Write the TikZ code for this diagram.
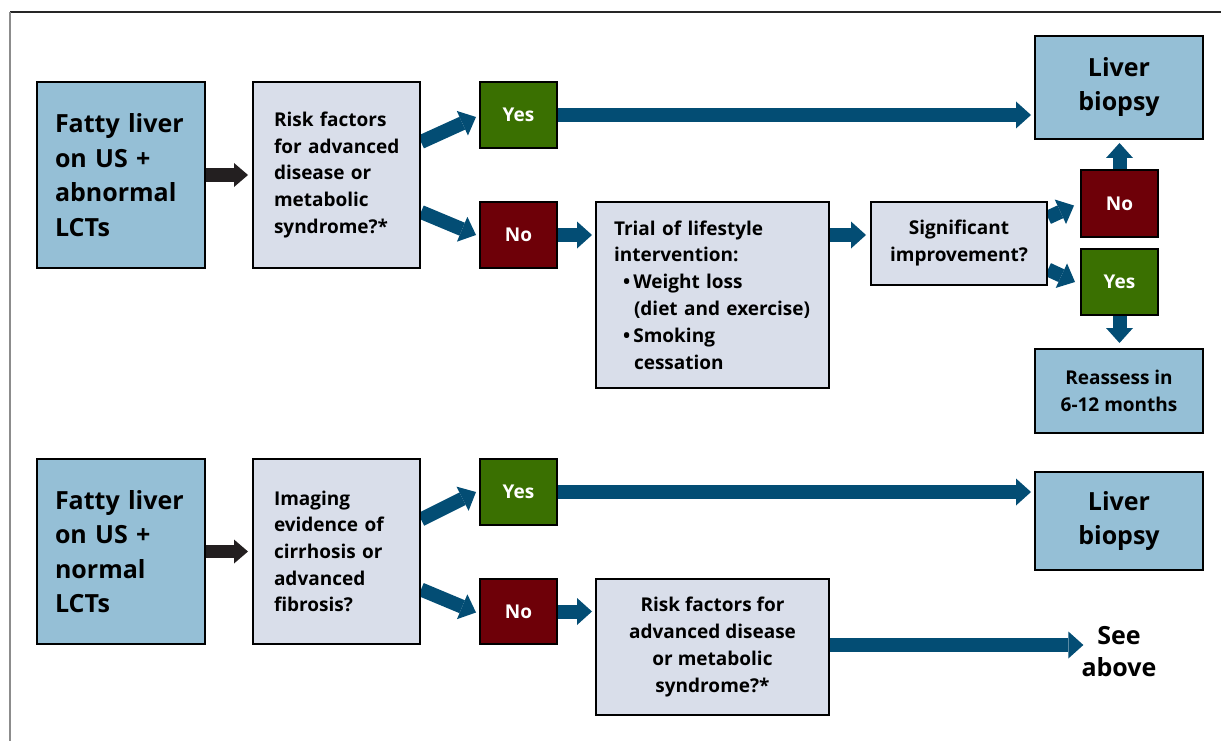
\documentclass[tikz,border=0pt]{standalone}
\usepackage{fontspec}
\setmainfont{Open Sans}
\usetikzlibrary{arrows.meta,backgrounds}
\definecolor{lblue}{HTML}{95BFD6}
\definecolor{lgray}{HTML}{D9DEEA}
\definecolor{ygreen}{HTML}{3A7001}
\definecolor{nred}{HTML}{6E0008}
\definecolor{ablue}{HTML}{034D74}
\definecolor{ablack}{HTML}{231F20}
\begin{document}
\begin{tikzpicture}[x=1pt,y=-1pt,
  box/.style={draw=black, line width=2pt, inner sep=0pt},
  startbox/.style={box, fill=lblue, minimum width=168pt, minimum height=186pt,
    inner xsep=18pt, text width=132pt, align=left, font=\fontsize{25}{34.5}\selectfont\bfseries},
  qbox/.style={box, fill=lgray, minimum width=167pt, minimum height=186pt,
    inner xsep=21pt, text width=125pt, align=left, font=\fontsize{19}{26.7}\selectfont\bfseries},
  endbox/.style={box, fill=lblue, minimum width=168pt, align=center, font=\fontsize{25}{34}\selectfont\bfseries},
  yesbox/.style={box, fill=ygreen, text=white, minimum width=77pt, minimum height=66pt, font=\fontsize{19}{24}\selectfont\bfseries},
  nobox/.style={box, fill=nred, text=white, minimum width=77pt, minimum height=66pt, font=\fontsize{19}{24}\selectfont\bfseries},
  graybox/.style={box, fill=lgray, align=center, font=\fontsize{19}{27}\selectfont\bfseries},
  barrow/.style={draw=ablue, line width=14pt, -{Triangle[length=15pt,width=27pt,line width=0pt]}},
  karrow/.style={draw=ablack, line width=13pt, -{Triangle[length=14pt,width=24pt,line width=0pt]}}
]
\useasboundingbox (0,0) rectangle (1221,741);
\draw[line width=1.2pt, draw=black!85] (10,12) -- (1221,12);
\draw[line width=2pt, draw=black!45] (10,12) -- (10,741);

% top flow
\node[startbox] (A1) at (121,175) {Fatty liver\\on US +\\abnormal\\LCTs};
\node[qbox] (B1) at (336.5,175) {Risk factors\\\mbox{for advanced}\\disease or\\metabolic\\syndrome?*};
\node[yesbox] (Yes1) at (518.5,115) {Yes};
\node[nobox] (No1) at (518.5,235) {No};
\node[box, fill=lgray, minimum width=233pt, minimum height=186pt, inner xsep=18pt,
  text width=197pt, align=left, font=\fontsize{19}{26.8}\selectfont\bfseries] (Trial) at (712.5,295)
  {Trial of lifestyle\\intervention:\\\hspace*{9pt}\textbullet\,Weight loss\\\hspace*{20pt}(diet and exercise)\\\hspace*{9pt}\textbullet\,Smoking\\\hspace*{20pt}cessation};
\node[graybox, minimum width=176pt, minimum height=83pt] (Sig) at (959,243.5) {Significant\\improvement?};
\node[nobox, minimum height=67pt] (No2) at (1119.5,203.5) {No};
\node[yesbox] (Yes2) at (1119.5,282) {Yes};
\node[endbox, minimum height=84pt, font=\fontsize{19}{27}\selectfont\bfseries] (Reas) at (1119,391) {Reassess in\\6-12 months};
\node[endbox, minimum height=103pt] (Bio1) at (1119,87.5) {Liver\\biopsy};

% bottom flow
\node[startbox, minimum height=185pt] (A2) at (121,551.5) {Fatty liver\\on US +\\normal\\LCTs};
\node[qbox, minimum height=185pt] (B2) at (336.5,551.5) {Imaging\\evidence of\\cirrhosis or\\advanced\\fibrosis?};
\node[yesbox] (Yes3) at (518.5,492) {Yes};
\node[nobox, minimum height=65pt] (No3) at (518.5,611.5) {No};
\node[graybox, minimum width=233pt, minimum height=136pt] (Risk2) at (712.5,647)
  {Risk factors for\\advanced disease\\or metabolic\\syndrome?*};
\node[endbox, minimum height=98pt] (Bio2) at (1119,521) {Liver\\biopsy};
\node[align=center, inner sep=0pt, font=\fontsize{25}{32}\selectfont\bfseries] (See) at (1119,652) {See\\above};

\begin{scope}[on background layer]
\draw[karrow] (A1.east) -- ([xshift=-4pt]B1.west);
\draw[barrow] ([yshift=33pt]B1.east) -- ([xshift=-3pt,yshift=-2pt]Yes1.west);
\draw[barrow] ([yshift=-37pt]B1.east) -- ([xshift=-3pt]No1.west);
\draw[barrow] (Yes1.east) -- ([xshift=-3pt]Bio1.west |- Yes1.east);
\draw[barrow] (No1.east) -- ([xshift=-3pt]Trial.west |- No1.east);
\draw[barrow] (Trial.east |- No1.east) -- ([xshift=-4pt]Sig.west |- No1.east);
\draw[barrow] ([yshift=26pt]Sig.east) -- ([xshift=-6pt,yshift=-2pt]No2.west);
\draw[barrow] ([yshift=-26pt]Sig.east) -- ([xshift=-5pt]Yes2.west);
\draw[barrow] (No2.north) -- ([yshift=-3pt]Bio1.south -| No2.north);
\draw[barrow] (Yes2.south) -- ([yshift=5pt]Reas.north -| Yes2.south);

\draw[karrow] (A2.east) -- ([xshift=-4pt]B2.west);
\draw[barrow] ([yshift=32pt]B2.east) -- ([xshift=-3pt]Yes3.west);
\draw[barrow] ([yshift=-38pt]B2.east) -- ([xshift=-3pt,yshift=-1pt]No3.west);
\draw[barrow] (Yes3.east) -- ([xshift=-3pt]Bio2.west |- Yes3.east);
\draw[barrow] (No3.east) -- ([xshift=-3pt]Risk2.west |- No3.east);
\draw[barrow] ([yshift=2pt]Risk2.east) -- ([xshift=2pt,yshift=2pt]See.west |- Risk2.east);
\end{scope}
\end{tikzpicture}
\end{document}
